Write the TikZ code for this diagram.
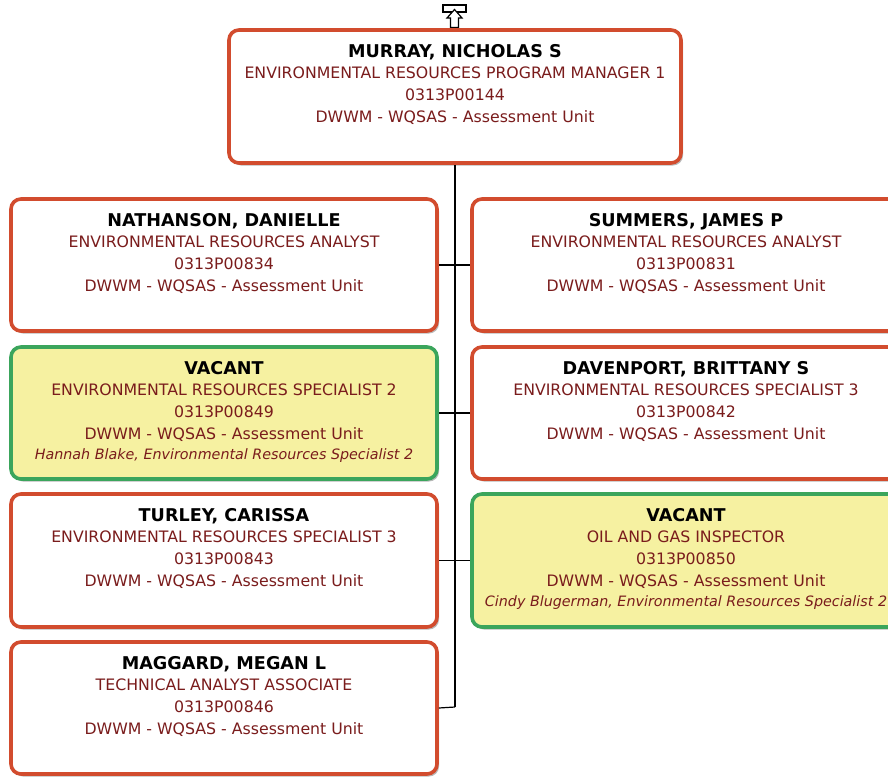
\documentclass[tikz,border=0pt]{standalone}
\usepackage{fontspec}
\setmainfont{DejaVu Sans}
\usetikzlibrary{shadows}
\definecolor{bordred}{HTML}{D24C2E}
\definecolor{bordgreen}{HTML}{3BA55C}
\definecolor{vacfill}{HTML}{F6F1A1}
\definecolor{txtred}{HTML}{7A1C1C}
\definecolor{shadowgray}{HTML}{A8A8A8}
\newcommand{\boxtext}[6]{\parbox[c][#1][t]{#2}{\centering\vspace*{14pt}%
  {\fontsize{17.6pt}{22pt}\selectfont\bfseries #3}\\[-1pt]%
  \fontsize{15.75pt}{22pt}\selectfont\color{txtred}#4\\#5\\#6}}
\newcommand{\vactext}[7]{\parbox[c][#1][t]{#2}{\centering\vspace*{14pt}%
  {\fontsize{17.6pt}{22pt}\selectfont\bfseries #3}\\[-1pt]%
  \fontsize{15.75pt}{22pt}\selectfont\color{txtred}#4\\#5\\#6\\[-2pt]%
  {\fontsize{14.3pt}{20pt}\selectfont\itshape #7}}}
\tikzset{
  posbox/.style={draw=bordred, line width=3.6pt, fill=white, rounded corners=10pt,
    inner sep=0pt, drop shadow={shadow xshift=2pt, shadow yshift=-2.5pt, fill=shadowgray, opacity=0.8}},
  vacbox/.style={posbox, draw=bordgreen, fill=vacfill},
  link/.style={draw=black, line width=1.2pt},
}
\begin{document}
\begin{tikzpicture}[x=1pt, y=-1pt]
\clip (0,0) rectangle (888,776);
\fill[white] (0,0) rectangle (888,776);
% top icon
\draw[black, line width=1.2pt, fill=white] (443,5) rectangle (466,12);
\draw[black, line width=1.2pt, fill=white, line join=miter]
  (454.5,9.5) -- (462,18) -- (458.5,18) -- (458.5,27.5) -- (450.5,27.5) -- (450.5,18) -- (447,18) -- cycle;
% boxes
\node[posbox] (top) at (455,96.5) {\boxtext{133pt}{452pt}{MURRAY, NICHOLAS S}{ENVIRONMENTAL RESOURCES PROGRAM MANAGER 1}{0313P00144}{DWWM - WQSAS - Assessment Unit}};
\coordinate (trunkend) at (455,707);
\draw[link] (top.south) -- (trunkend);
\node[posbox] (l1) at (224,265) {\boxtext{132pt}{426pt}{NATHANSON, DANIELLE}{ENVIRONMENTAL RESOURCES ANALYST}{0313P00834}{DWWM - WQSAS - Assessment Unit}};
\node[posbox] (r1) at (686,265) {\boxtext{132pt}{428pt}{SUMMERS, JAMES P}{ENVIRONMENTAL RESOURCES ANALYST}{0313P00831}{DWWM - WQSAS - Assessment Unit}};
\node[vacbox] (l2) at (224,413) {\vactext{132pt}{426pt}{VACANT}{ENVIRONMENTAL RESOURCES SPECIALIST 2}{0313P00849}{DWWM - WQSAS - Assessment Unit}{Hannah Blake, Environmental Resources Specialist 2}};
\node[posbox] (r2) at (686,413) {\boxtext{132pt}{428pt}{DAVENPORT, BRITTANY S}{ENVIRONMENTAL RESOURCES SPECIALIST 3}{0313P00842}{DWWM - WQSAS - Assessment Unit}};
\node[posbox] (l3) at (224,560.5) {\boxtext{133pt}{426pt}{TURLEY, CARISSA}{ENVIRONMENTAL RESOURCES SPECIALIST 3}{0313P00843}{DWWM - WQSAS - Assessment Unit}};
\node[vacbox] (r3) at (686,560.5) {\vactext{133pt}{428pt}{VACANT}{OIL AND GAS INSPECTOR}{0313P00850}{DWWM - WQSAS - Assessment Unit}{Cindy Blugerman, Environmental Resources Specialist 2}};
\node[posbox] (l4) at (224,708) {\boxtext{132pt}{426pt}{MAGGARD, MEGAN L}{TECHNICAL ANALYST ASSOCIATE}{0313P00846}{DWWM - WQSAS - Assessment Unit}};
% connectors
\draw[link] (l1.east) -- (r1.west);
\draw[link] (l2.east) -- (r2.west);
\draw[link] (l3.east) -- (r3.west);
\draw[link] (l4.east) -- (trunkend);
\end{tikzpicture}
\end{document}
